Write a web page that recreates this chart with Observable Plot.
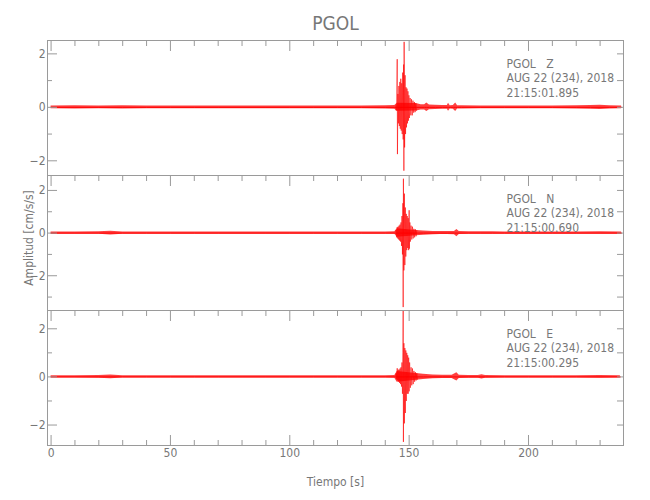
<!DOCTYPE html>
<html>
<head>
<meta charset="utf-8">
<script src="https://cdn.jsdelivr.net/npm/d3@7"></script>
<script src="https://cdn.jsdelivr.net/npm/@observablehq/plot@0.6"></script>
<style>
  body { margin: 0; background: #fff; }
  #chart { position: relative; width: 650px; height: 500px; overflow: hidden; background: #fff; }
  #chart svg { position: absolute; left: 0; overflow: visible; }
  svg text, svg tspan { white-space: pre; }
</style>
</head>
<body>
<div id="chart"></div>
<script>
const FONT = '"Liberation Sans Narrow", "DejaVu Sans Condensed", sans-serif';
const AXIS = "#9a9a9a";
const TEXT = "#777777";
const TRACE = "#ff0000";

// ---- labels ----
const stationName = "PGOL";
const components = ["Z", "N", "E"];
const dateLabel = "AUG 22 (234), 2018";
const startTimes = ["21:15:01.895", "21:15:00.690", "21:15:00.295"];
const xTitle = "Tiempo [s]";
const yTitle = "Amplitud [cm/s/s]";

// ---- scales / ticks ----
const xDomain = [-1.5, 239.8];
const yDomains = [[-2.55, 2.5], [-3.63, 2.7], [-2.85, 2.76]];
const xMajorTicks = [0, 50, 100, 150, 200];
const xMinorTicks = [10, 20, 30, 40, 60, 70, 80, 90, 110, 120, 130, 140, 160, 170, 180, 190, 210, 220, 230];
const yMajorTicks = [-2, 0, 2];
const yMinorTicks = [[-1, 1], [-3, -1, 1], [-1, 1]];

// ---- background noise envelope (seconds, half-amplitude) ----
const noiseTimeZ = [0,10,20,30,40,50,60,70,80,90,100,110,120,130,140,144,145,153,155,156.5,157.4,158.5,161,164,166,166.5,167.2,168.5,169.5,170.3,172,180,190,200,210,220,226,230,234,239];
const noiseAmpZ  = [0.05,0.06,0.05,0.06,0.05,0.05,0.05,0.05,0.05,0.05,0.05,0.05,0.05,0.05,0.06,0.07,0.15,0.14,0.1,0.1,0.16,0.09,0.08,0.07,0.07,0.15,0.06,0.07,0.16,0.06,0.06,0.05,0.05,0.05,0.05,0.06,0.07,0.08,0.06,0.05];
const noiseTimeN = [0,10,20,25,30,40,50,60,70,80,90,100,110,120,130,140,144,145,153,156,160,163,166,169,170,171,175,180,185,190,200,210,220,230,239];
const noiseAmpN  = [0.05,0.05,0.06,0.09,0.05,0.05,0.05,0.05,0.05,0.05,0.05,0.05,0.05,0.05,0.05,0.05,0.06,0.2,0.12,0.1,0.08,0.07,0.07,0.08,0.17,0.07,0.06,0.06,0.06,0.05,0.05,0.05,0.05,0.06,0.05];
const noiseTimeE = [0,10,20,25,30,40,50,60,70,80,90,100,110,120,130,140,144,145,153,156,160,164,168,170,171,175,179,180.5,182,190,200,210,220,230,238.5];
const noiseAmpE  = [0.05,0.05,0.06,0.08,0.05,0.05,0.05,0.05,0.05,0.05,0.05,0.05,0.05,0.05,0.05,0.05,0.06,0.22,0.14,0.11,0.08,0.07,0.07,0.17,0.07,0.06,0.06,0.09,0.06,0.05,0.05,0.05,0.05,0.06,0.05];

// ---- main event peaks (seconds, cm/s/s) ----
const eventTimeZ = [144.4,144.6,144.8,145.0,145.1,145.3,145.5,145.7,145.9,146.1,146.3,146.5,146.7,146.9,147.1,147.3,147.5,147.7,147.8,147.9,148.1,148.3,148.5,148.7,148.9,149.1,149.3,149.5,149.7,149.9,150.1,150.4,150.7,151.0,151.3,151.6,151.9,152.2,152.5,152.8,153.1];
const eventAmpZ  = [0.06,-0.12,0.15,1.8,-1.75,0.5,-0.6,0.8,-0.7,0.95,-0.8,1.07,-0.87,0.9,-1.0,1.3,-1.2,1.6,-2.37,2.45,-1.5,1.2,-1.0,0.75,-0.75,0.7,-0.6,0.6,-0.5,0.45,-0.4,0.35,-0.3,0.3,-0.3,0.25,-0.2,0.2,-0.18,0.15,-0.12];
const eventTimeN = [144.4,144.6,144.8,145.0,145.2,145.4,145.6,145.8,146.0,146.2,146.4,146.6,146.8,147.0,147.2,147.4,147.5,147.6,147.8,148.0,148.2,148.4,148.6,148.8,149.0,149.2,149.4,149.6,149.8,150.0,150.1,150.3,150.5,150.8,151.1,151.4,151.7,152.0,152.3,152.6,152.9,153.2];
const eventAmpN  = [0.06,0.15,-0.2,0.28,-0.25,0.3,-0.3,0.35,-0.35,0.4,-0.4,0.5,-0.6,0.8,-1.0,1.4,-3.47,2.55,-1.75,1.85,-1.5,1.2,-1.1,0.9,-0.8,0.8,-0.7,0.7,-0.8,1.07,-0.73,0.5,-0.4,0.35,-0.3,0.3,-0.25,0.2,-0.2,0.18,-0.15,0.12];
const eventTimeE = [144.4,144.6,144.8,145.0,145.2,145.4,145.6,145.8,146.0,146.2,146.4,146.6,146.8,147.0,147.2,147.4,147.5,147.6,147.8,148.0,148.2,148.4,148.6,148.8,149.0,149.2,149.4,149.6,149.8,150.0,150.2,150.5,150.8,151.1,151.4,151.7,152.0,152.3,152.6,152.9,153.2,153.5];
const eventAmpE  = [0.05,0.15,-0.1,0.36,-0.14,0.3,-0.2,0.3,-0.25,0.35,-0.3,0.4,-0.4,0.6,-0.7,1.0,2.75,-2.7,1.4,-1.93,1.2,-1.5,1.1,-1.0,1.0,-0.7,0.9,-0.7,0.8,-0.6,0.6,-0.45,0.4,-0.35,0.35,-0.3,0.25,-0.2,0.2,-0.15,0.15,-0.1];

const noiseTimes = [noiseTimeZ, noiseTimeN, noiseTimeE];
const noiseAmps = [noiseAmpZ, noiseAmpN, noiseAmpE];
const eventTimes = [eventTimeZ, eventTimeN, eventTimeE];
const eventAmps = [eventAmpZ, eventAmpN, eventAmpE];

// ---- layout ----
const panelLayout = [
  {top: 0,   height: 175, marginTop: 40, marginBottom: 0},
  {top: 175, height: 135, marginTop: 0,  marginBottom: 0},
  {top: 310, height: 190, marginTop: 0,  marginBottom: 55}
];

const intFormat = d3.format("d");

function buildPanel(i) {
  const L = panelLayout[i];
  const noise = noiseTimes[i].map((t, j) => ({t, a: noiseAmps[i][j]}));
  const event = eventTimes[i].map((t, j) => ({t, v: eventAmps[i][j]}));
  const marks = [
    Plot.areaY(noise, {x: "t", y1: d => -d.a, y2: d => d.a, fill: TRACE, fillOpacity: 0.75}),
    Plot.line(noise, {x: "t", y: () => 0, stroke: TRACE, strokeWidth: 1}),
    Plot.line(event, {x: "t", y: "v", stroke: TRACE, strokeWidth: 0.6}),
    Plot.frame({stroke: AXIS}),
    // left axis
    Plot.axisY({anchor: "left", ticks: yMajorTicks, tickSize: -10, fill: "none", stroke: AXIS, label: null}),
    Plot.axisY({anchor: "left", ticks: yMinorTicks[i], tickSize: -5, fill: "none", stroke: AXIS, label: null}),
    Plot.axisY({anchor: "left", ticks: yMajorTicks, tickSize: 0, tickPadding: 2, tickFormat: intFormat, fill: TEXT, label: null, fontSize: 12}),
    // right axis
    Plot.axisY({anchor: "right", ticks: yMajorTicks, tickSize: -7, fill: "none", stroke: AXIS, label: null}),
    Plot.axisY({anchor: "right", ticks: yMinorTicks[i], tickSize: -7, fill: "none", stroke: AXIS, label: null}),
    // top ticks
    Plot.axisX({anchor: "top", ticks: xMajorTicks, tickSize: -10, fill: "none", stroke: AXIS, label: null}),
    Plot.axisX({anchor: "top", ticks: xMinorTicks, tickSize: -5, fill: "none", stroke: AXIS, label: null}),
    // annotation
    Plot.text([`${stationName}   ${components[i]}\n${dateLabel}\n${startTimes[i]}`], {
      frameAnchor: "top-right", textAnchor: "start", lineAnchor: "top",
      dx: -117, dy: 17, lineHeight: 1.2, fontSize: 12, fill: TEXT
    })
  ];
  if (i === 0) {
    marks.push(Plot.text([stationName], {frameAnchor: "top", lineAnchor: "bottom", dy: -11, fontSize: 19, fill: TEXT}));
  }
  if (i === 1) {
    marks.push(Plot.text([yTitle], {frameAnchor: "left", rotate: -90, textAnchor: "middle", lineAnchor: "middle", dx: -18, dy: -5, fontSize: 12, fill: TEXT}));
  }
  if (i === 2) {
    marks.push(
      Plot.axisX({anchor: "bottom", ticks: xMajorTicks, tickSize: -10, fill: "none", stroke: AXIS, label: null}),
      Plot.axisX({anchor: "bottom", ticks: xMinorTicks, tickSize: -5, fill: "none", stroke: AXIS, label: null}),
      Plot.axisX({anchor: "bottom", ticks: xMajorTicks, tickSize: 0, tickPadding: 3, tickFormat: intFormat, fill: TEXT, label: null, fontSize: 12}),
      Plot.text([xTitle], {frameAnchor: "bottom", lineAnchor: "bottom", dy: 40, fontSize: 12, fill: TEXT})
    );
  }
  const svg = Plot.plot({
    width: 650,
    height: L.height,
    marginLeft: 47,
    marginRight: 27,
    marginTop: L.marginTop,
    marginBottom: L.marginBottom,
    x: {domain: xDomain},
    y: {domain: yDomains[i]},
    style: {background: "transparent", overflow: "visible", fontFamily: FONT, fontSize: "12px", color: TEXT},
    marks
  });
  svg.style.top = L.top + "px";
  return svg;
}

const chart = document.getElementById("chart");
[0, 1, 2].forEach(i => chart.appendChild(buildPanel(i)));
</script>
</body>
</html>
